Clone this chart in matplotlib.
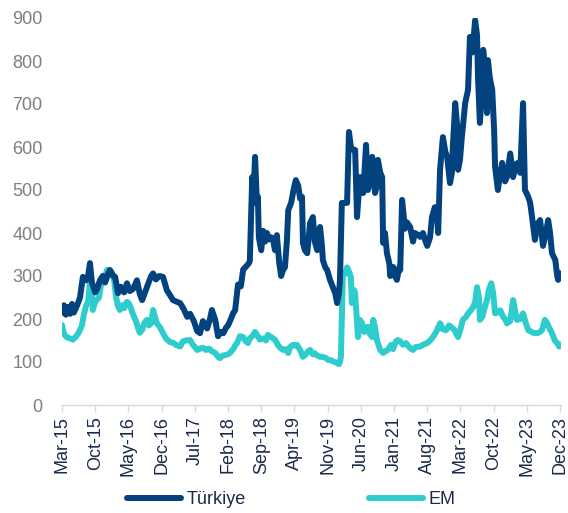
import numpy as np
import matplotlib
matplotlib.use('Agg')
import matplotlib.pyplot as plt

#-------------------------------------------------------------------------------
# 5Y CDS spreads (bp); x = months since Mar-15
#-------------------------------------------------------------------------------
tr_month = [0.0, 0.4, 0.8, 1.3, 1.7, 2.1, 2.5, 3.2, 3.8, 4.4, 5.1, 5.5, 5.9, 6.3, 7.0,
            7.4, 8.0, 8.6, 9.1, 9.7, 10.1, 10.8, 11.2, 11.8, 12.4, 13.1, 13.7, 14.3,
            15.0, 15.8, 16.4, 16.9, 17.5, 18.1, 18.8, 19.2, 19.8, 20.5, 21.3, 22.1,
            22.8, 23.4, 24.2, 24.9, 25.7, 26.4, 27.0, 27.8, 28.5, 29.1, 29.7, 30.6,
            31.2, 31.6, 32.3, 32.9, 33.5, 34.0, 34.6, 35.0, 35.6, 36.1, 36.5, 37.1,
            37.7, 38.2, 38.8, 39.4, 39.6, 40.1, 40.3, 40.7, 41.1, 41.3, 41.5, 42.0,
            42.4, 42.8, 43.2, 43.6, 44.1, 44.5, 44.9, 45.3, 45.8, 46.2, 46.6, 47.0,
            47.4, 47.7, 48.3, 48.9, 49.3, 49.8, 50.2, 50.6, 50.8, 51.2, 51.7, 52.1,
            52.3, 52.9, 53.3, 53.8, 54.2, 54.4, 54.8, 55.0, 55.5, 55.9, 56.5, 57.1,
            57.6, 58.0, 58.4, 58.6, 59.0, 59.7, 60.1, 60.5, 60.9, 61.4, 61.8, 62.2,
            62.6, 62.8, 63.3, 63.5, 64.1, 64.5, 64.9, 65.4, 65.8, 66.0, 66.4, 66.6,
            67.1, 67.5, 67.7, 68.1, 68.5, 69.0, 69.2, 69.8, 70.2, 70.6, 71.1, 71.3,
            71.7, 72.3, 72.7, 73.4, 74.0, 74.4, 75.1, 75.5, 76.1, 76.5, 77.0, 77.6,
            78.0, 78.6, 79.1, 79.3, 79.7, 80.3, 80.8, 81.2, 81.8, 82.2, 82.4, 82.9,
            83.3, 83.5, 83.9, 84.3, 85.0, 85.6, 86.0, 86.5, 87.1, 87.5, 87.7, 88.1,
            88.6, 88.8, 89.2, 89.6, 89.8, 90.2, 90.7, 91.1, 91.3, 91.9, 92.4, 92.8,
            93.4, 93.8, 94.5, 94.9, 95.1, 95.7, 96.1, 96.6, 97.2, 97.6, 98.3, 98.7,
            99.1, 99.7, 100.2, 100.8, 101.4, 102.0, 102.5, 102.9, 103.3, 104.0,
            104.4, 104.6, 105.0, 105.4]
tr_cds = [215, 232, 210, 228, 212, 235, 215, 232, 250, 298, 290, 300, 330, 285, 262,
          270, 290, 300, 285, 305, 314, 300, 298, 260, 275, 262, 283, 265,
          270, 290, 258, 244, 262, 280, 300, 306, 292, 300, 298, 267,
          255, 244, 240, 237, 222, 205, 212, 195, 172, 167, 195, 178,
          200, 221, 198, 160, 170, 167, 180, 185, 200, 214, 220, 280,
          276, 315, 322, 330, 335, 530, 470, 577, 470, 484, 390, 360,
          405, 380, 400, 385, 390, 384, 360, 395, 330, 300, 314, 320,
          380, 453, 470, 505, 523, 510, 480, 484, 377, 360, 353, 400,
          423, 437, 380, 360, 405, 414, 370, 337, 320, 314, 291, 274,
          260, 237, 260, 291, 470, 470, 470, 635, 600, 593, 593, 437,
          500, 530, 510, 493, 605, 500, 520, 577, 520, 493, 510, 570,
          540, 530, 377, 400, 353, 330, 300, 321, 300, 291, 320, 314,
          477, 410, 425, 414, 380, 400, 395, 391, 400, 385, 370, 390,
          437, 460, 440, 400, 547, 623, 590, 577, 516, 540, 600, 702,
          650, 547, 570, 623, 702, 733, 856, 820, 895, 860, 763, 656,
          740, 826, 780, 679, 802, 760, 733, 640, 554, 500, 540, 563,
          520, 530, 585, 550, 530, 560, 563, 540, 702, 500, 484, 470,
          437, 384, 420, 430, 370, 400, 430, 400, 353, 337,
          300, 291, 306, 306]

em_month = [0.0, 0.4, 1.1, 1.7, 2.3, 3.0, 3.6, 4.2, 4.6, 5.1, 5.5, 5.9, 6.3, 6.5, 7.0,
            7.4, 7.8, 8.2, 8.6, 9.1, 9.5, 10.1, 10.5, 11.0, 11.4, 11.8, 12.2, 12.7,
            13.1, 13.7, 14.1, 14.5, 15.0, 15.6, 16.0, 16.4, 16.9, 17.3, 17.9, 18.3,
            18.8, 19.2, 19.6, 20.0, 20.7, 21.3, 21.9, 22.8, 23.4, 24.0, 24.9, 25.5,
            26.1, 27.0, 27.6, 28.5, 29.1, 29.7, 30.4, 31.0, 31.6, 32.3, 32.9, 33.3,
            33.9, 34.4, 35.0, 35.4, 36.1, 36.5, 36.9, 37.5, 38.2, 38.6, 39.2, 39.6,
            40.3, 40.7, 41.3, 41.7, 42.4, 43.0, 43.4, 44.1, 44.5, 44.9, 45.5, 46.0,
            46.6, 47.2, 47.7, 48.1, 48.7, 49.1, 49.5, 50.2, 50.8, 51.4, 51.9, 52.3,
            52.9, 53.3, 53.8, 54.4, 55.0, 55.5, 56.1, 56.7, 57.4, 58.0, 58.4, 58.6,
            58.8, 59.2, 59.7, 60.1, 60.5, 60.9, 61.1, 61.6, 61.8, 62.2, 62.4, 62.8,
            63.3, 63.7, 64.1, 64.5, 64.9, 65.4, 65.6, 66.0, 66.4, 67.1, 67.7, 68.3,
            68.7, 69.4, 69.8, 70.4, 70.8, 71.3, 71.9, 72.5, 73.4, 74.0, 74.6, 75.5,
            76.1, 77.0, 77.6, 78.2, 78.9, 79.7, 80.3, 81.0, 81.6, 82.0, 82.7, 83.5,
            84.1, 84.5, 85.2, 85.6, 86.2, 86.7, 87.1, 87.5, 87.9, 88.1, 88.6, 89.2,
            89.6, 90.0, 90.5, 90.9, 91.3, 91.7, 92.4, 93.0, 93.4, 93.8, 94.5, 95.1,
            95.5, 95.9, 96.6, 97.2, 97.8, 98.3, 98.7, 99.3, 100.2, 100.8, 101.2,
            101.8, 102.3, 102.7, 103.3, 103.9, 104.4, 104.8, 105.2, 105.4]
em_cds = [186, 165, 157, 155, 152, 160, 170, 185, 210, 232, 240, 286, 255, 221, 240,
          245, 250, 278, 290, 300, 314, 312, 308, 290, 250, 230, 221, 232,
          225, 240, 236, 226, 210, 195, 180, 168, 175, 190, 198, 185,
          190, 221, 205, 190, 180, 167, 155, 146, 145, 140, 136, 148,
          150, 151, 140, 128, 131, 133, 128, 131, 125, 121, 112, 109,
          115, 116, 118, 121, 130, 138, 144, 160, 158, 150, 144, 155,
          162, 170, 160, 152, 155, 150, 163, 158, 155, 152, 140, 133,
          128, 130, 121, 135, 140, 138, 140, 128, 112, 118, 125, 128,
          118, 120, 115, 112, 112, 110, 105, 104, 100, 98, 95, 100,
          112, 300, 306, 320, 310, 298, 237, 267, 260, 190, 158, 198,
          190, 170, 175, 182, 165, 158, 198, 180, 150, 128, 121, 126,
          128, 140, 130, 148, 151, 148, 140, 144, 132, 128, 135, 136,
          140, 144, 150, 158, 170, 190, 176, 174, 185, 182, 175, 158,
          180, 198, 205, 213, 220, 228, 240, 274, 250, 198, 205, 230,
          244, 268, 283, 260, 213, 215, 220, 205, 200, 190, 195, 244,
          220, 198, 200, 213, 190, 174, 172, 168, 167, 170, 174,
          198, 190, 180, 167, 150, 144, 136, 140, 142]

tick_labels = ['Mar-15', 'Oct-15', 'May-16', 'Dec-16', 'Jul-17', 'Feb-18', 'Sep-18',
               'Apr-19', 'Nov-19', 'Jun-20', 'Jan-21', 'Aug-21', 'Mar-22', 'Oct-22',
               'May-23', 'Dec-23']
tick_pos = [7 * i for i in range(len(tick_labels))]

#-------------------------------------------------------------------------------
plt.rcParams['font.family'] = ['Liberation Sans', 'DejaVu Sans']

fig = plt.figure(figsize=(5.68, 5.13), dpi=100)
ax = fig.add_axes([62 / 568, 1 - 405 / 513, 499 / 568, 387 / 513])

navy = '#02427f'
teal = '#2ecccc'
ax.plot(tr_month, tr_cds, color=navy, lw=4.3, solid_joinstyle='round',
        solid_capstyle='round', label='Türkiye', zorder=3)
ax.plot(em_month, em_cds, color=teal, lw=4.3, solid_joinstyle='round',
        solid_capstyle='round', label='EM', zorder=2)

ax.set_xlim(0, 105.2)
ax.set_ylim(0, 900)
ax.set_yticks(range(0, 901, 100))
ax.set_xticks(tick_pos)
ax.set_xticklabels(tick_labels, rotation=90, fontsize=13, color='#1b2a4a')
ax.tick_params(axis='y', length=0, labelsize=13, labelcolor='#7f7f7f', pad=14)
ax.tick_params(axis='x', length=5, width=1, color='#d9d9d9', pad=3)

for s in ['top', 'right', 'left']:
    ax.spines[s].set_visible(False)
ax.spines['bottom'].set_color('#d9d9d9')
ax.spines['bottom'].set_linewidth(1)

leg = fig.legend(loc='center', bbox_to_anchor=(291 / 568, 1 - 500 / 513), ncol=2,
                 frameon=False, fontsize=13, handlelength=3.0, handletextpad=0.3,
                 columnspacing=6.8)
for t in leg.get_texts():
    t.set_color('#1b2a4a')
for h in leg.get_lines():
    h.set_linewidth(4.3)

fig.savefig('out.png', dpi=100)
